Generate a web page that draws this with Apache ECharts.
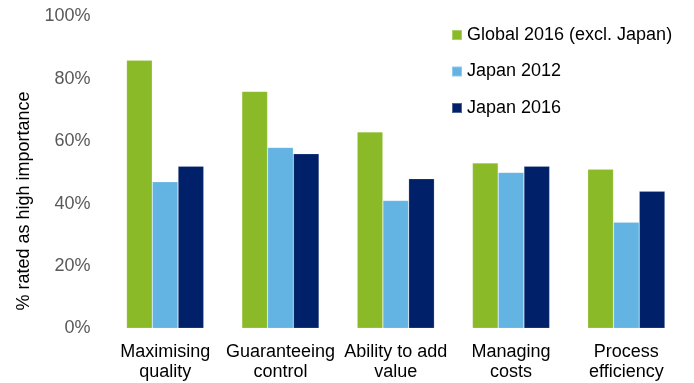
<!DOCTYPE html>
<html>
<head>
<meta charset="utf-8">
<script src="https://cdn.jsdelivr.net/npm/echarts@6/dist/echarts.min.js"></script>
<style>
  html, body { margin: 0; padding: 0; background: #fff; }
  #chart { width: 694px; height: 383px; }
</style>
</head>
<body>
<div id="chart"></div>
<script>
// Share of respondents rating each procurement objective as high importance (%)
const categories = ['Maximising\nquality', 'Guaranteeing\ncontrol', 'Ability to add\nvalue', 'Managing\ncosts', 'Process\nefficiency'];
const seriesNames = ['Global 2016 (excl. Japan)', 'Japan 2012', 'Japan 2016'];
const global2016 = [86, 76, 63, 53, 51];
const japan2012 = [47, 58, 41, 50, 34];
const japan2016 = [52, 56, 48, 52, 44];
const yTicks = [0, 20, 40, 60, 80, 100];

const colors = ['#8aba27', '#63b3e3', '#002169'];
const values = [global2016, japan2012, japan2016];
const font = 'Arial, "Liberation Sans", sans-serif';

const chart = echarts.init(document.getElementById('chart'), null, { renderer: 'canvas' });
chart.setOption({
  animation: false,
  color: colors,
  grid: { left: 107.5, right: 10, top: 16.5, bottom: 383 - 328.3, containLabel: false },
  legend: {
    orient: 'vertical',
    left: 446,
    top: 20,
    itemWidth: 10,
    itemHeight: 10,
    itemGap: 16.5,
    icon: 'rect',
    textStyle: { fontFamily: font, fontSize: 18, color: '#000', lineHeight: 20 },
    data: seriesNames
  },
  xAxis: {
    type: 'category',
    data: categories,
    axisLine: { show: false },
    axisTick: { show: false },
    axisLabel: {
      margin: 14,
      interval: 0,
      fontFamily: font,
      fontSize: 18,
      lineHeight: 20,
      color: '#000'
    }
  },
  yAxis: {
    type: 'value',
    min: yTicks[0],
    max: yTicks[yTicks.length - 1],
    interval: yTicks[1] - yTicks[0],
    axisLine: { show: false },
    axisTick: { show: false },
    splitLine: { show: false },
    axisLabel: {
      margin: 17,
      fontFamily: font,
      fontSize: 18,
      color: '#595959',
      formatter: v => v + '%'
    }
  },
  graphic: [{
    type: 'text',
    x: 24,
    y: 201,
    rotation: Math.PI / 2,
    style: {
      text: '% rated as high importance',
      fontFamily: font,
      fontSize: 18,
      fill: '#000',
      align: 'center',
      verticalAlign: 'middle'
    }
  }],
  series: seriesNames.map((name, i) => ({
    name: name,
    type: 'bar',
    data: values[i],
    barGap: '0%',
    barCategoryGap: '33%',
    itemStyle: { color: colors[i], borderColor: 'rgba(255,255,255,0.3)', borderWidth: 0.6 }
  }))
});
</script>
</body>
</html>
